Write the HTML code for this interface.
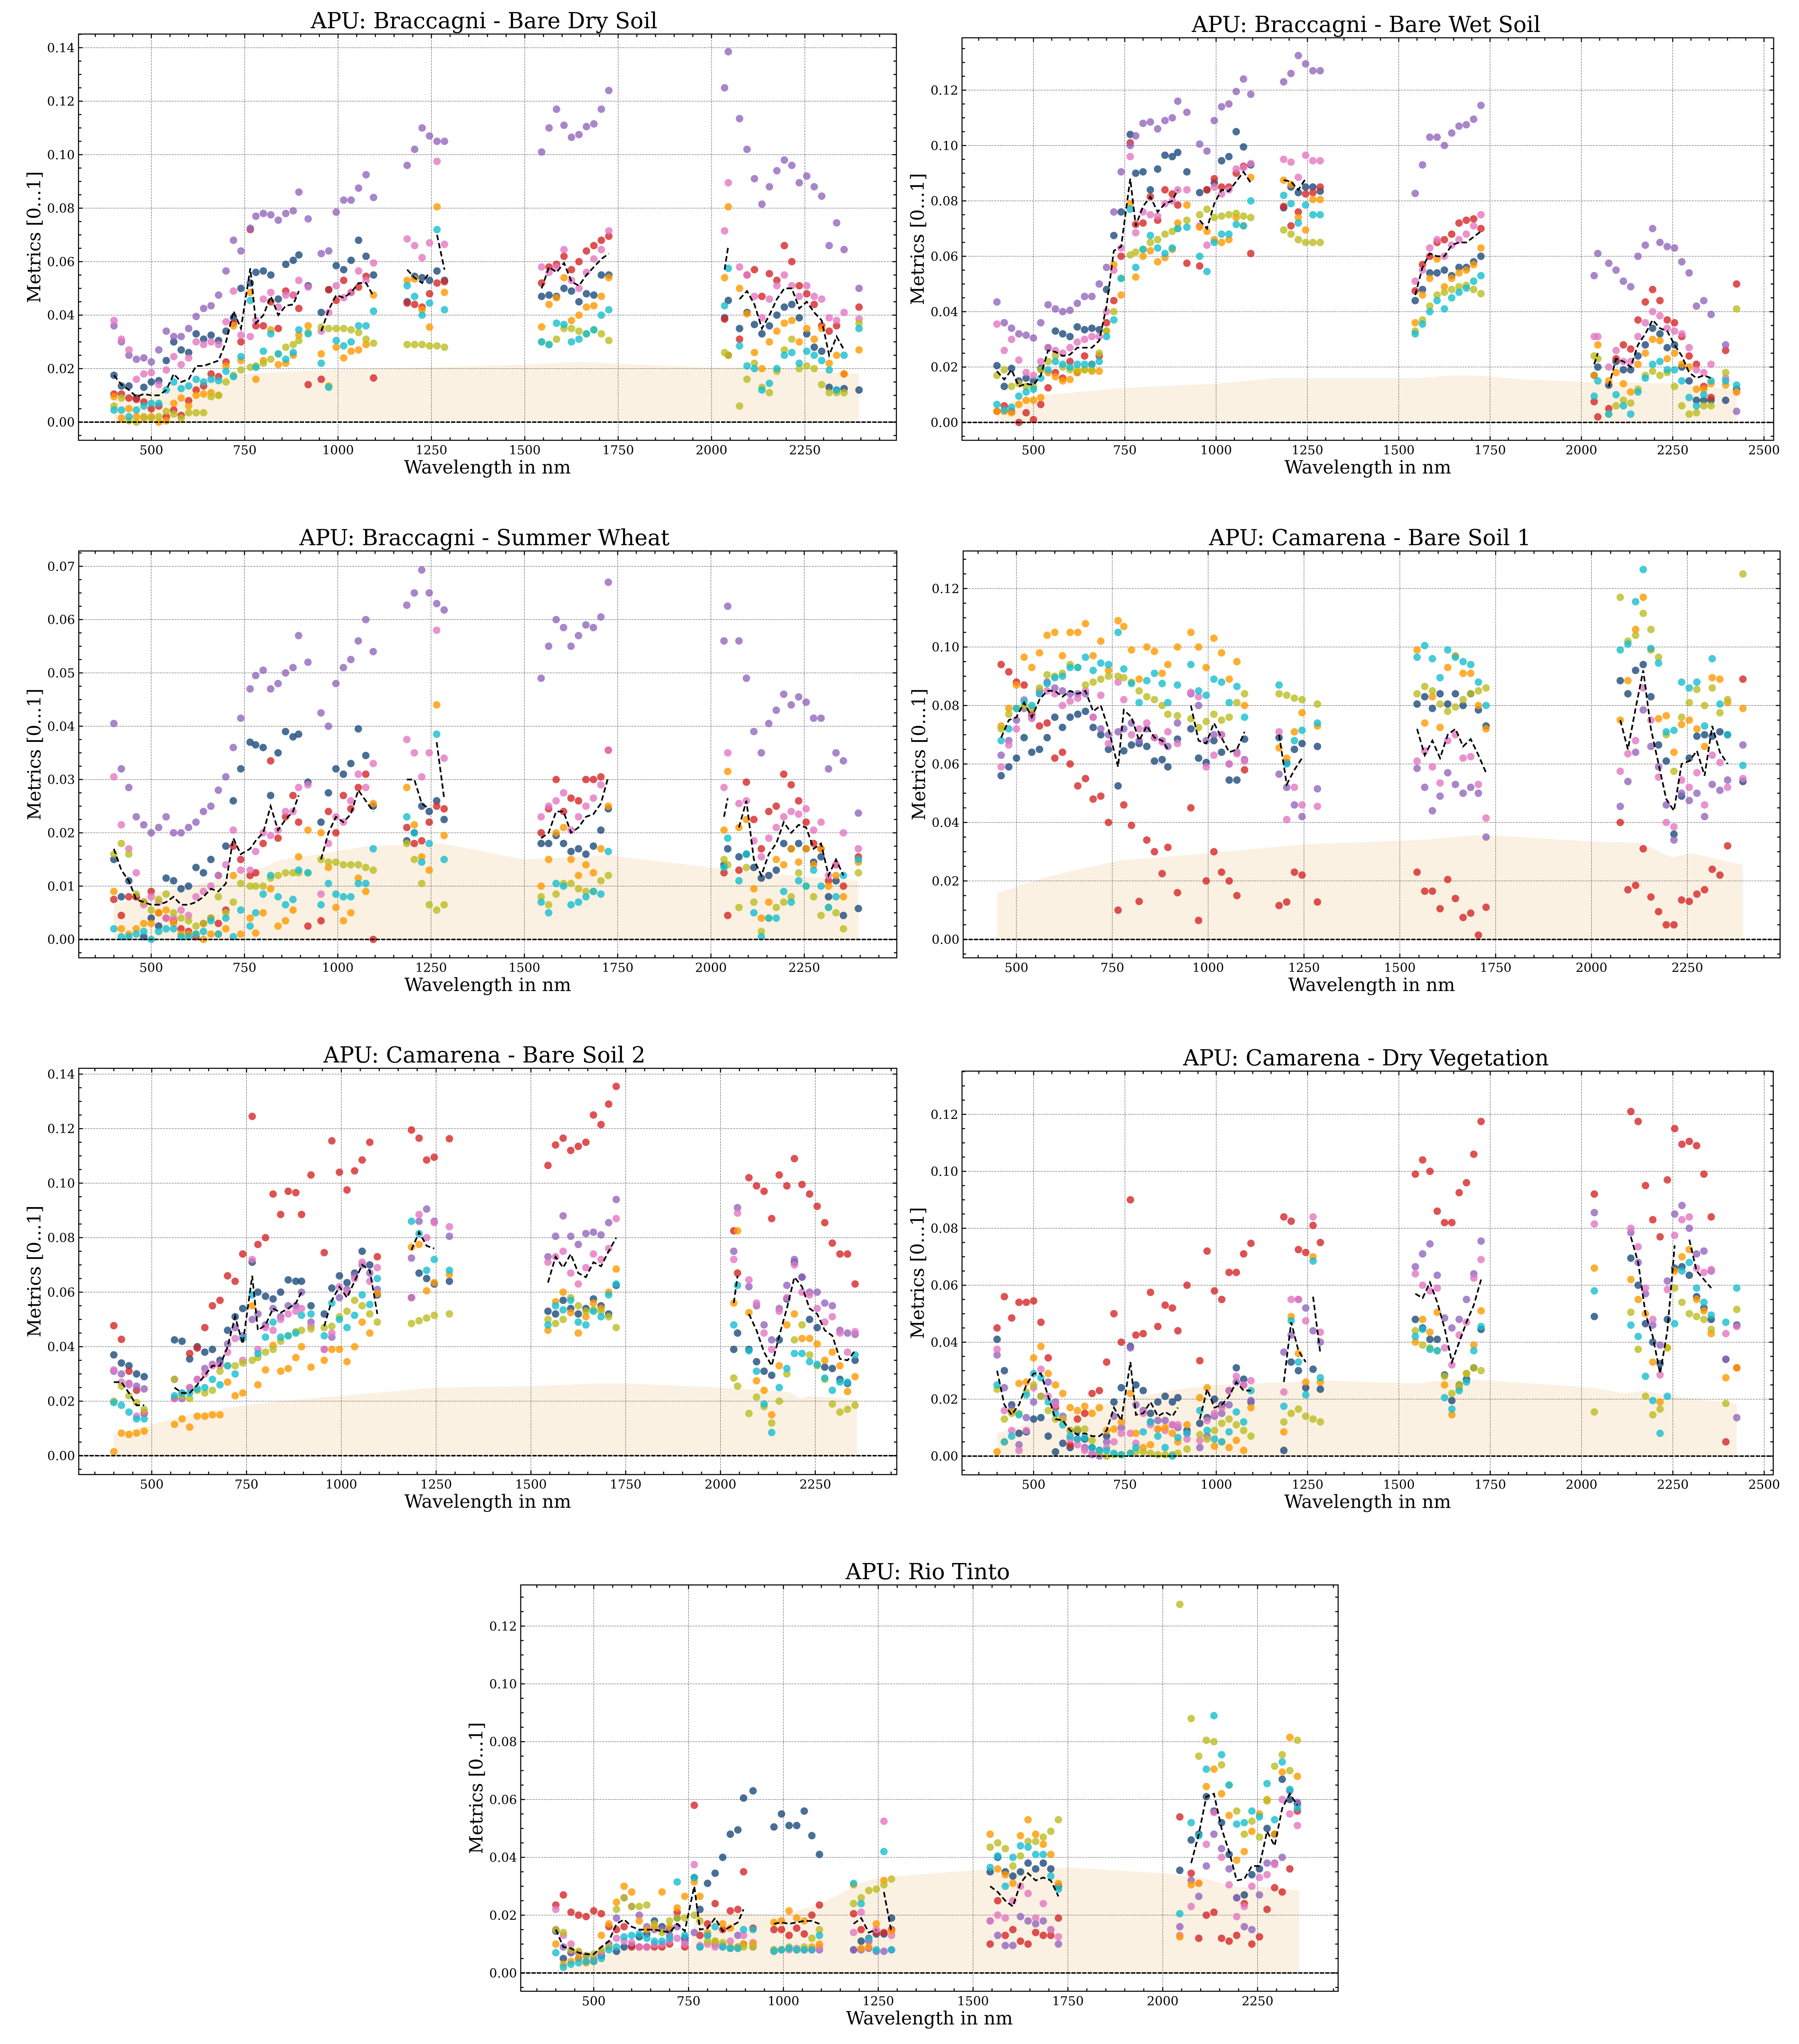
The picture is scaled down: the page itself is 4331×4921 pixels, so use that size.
<!DOCTYPE html>
<html lang="en">
<head>
<meta charset="utf-8">
<title>APU metrics by wavelength</title>
<style>
html,body{margin:0;padding:0;background:#fff}
svg{display:block}
text{font-family:"DejaVu Serif","Liberation Serif",serif;fill:#000}
</style>
</head>
<body>
<svg id="figure" xmlns="http://www.w3.org/2000/svg" width="4331" height="4921" viewBox="0 0 4331 4921"></svg>
<script>
const _=null;
const bands=[400,420,440,460,480,500,520,540,560,580,600,620,640,660,680,700,720,740,765,780,800,820,840,860,880,895,
920,
955,975,995,1015,1035,1055,1075,1095,
1185,1205,1225,1245,1265,1285,
1545,1565,1585,1605,1625,1645,1665,1685,1705,1725,
2035,2045,2075,2095,2115,2135,2155,2175,2195,2215,2235,2255,2275,2295,2315,2335,2355,2395,2425];
const lineBreaksAfter=[895,920,1095,1245,1285,1725,2045,2355];
const seriesKeys=["navy","red","purple","pink","orange","olive","cyan"];
const xTickLabels=["500","750","1000","1250","1500","1750","2000","2250","2500"];
const yTickLabelsWide=["0.00","0.02","0.04","0.06","0.08","0.10","0.12","0.14"];
const yTickLabelsWheat=["0.00","0.01","0.02","0.03","0.04","0.05","0.06","0.07"];

/* Braccagni - Bare Dry Soil (metric x 1000) */
const dryNavy=[17.5,13.5,13.5,9,13,15,15.5,23,30,27,26,33,31,32.5,30.5,34,39,50,52,56,56.5,55,46,59,60.5,62.5,
51,
41,49.5,58.5,57,60.5,68,62,55,
45,54.5,54,53,56.5,53,
47,47.5,47,50,49,45,48,47.5,55,55,
39,45.5,35,41,36.5,33,36,40,43,44,39,33,28,26.5,13,12,12.5,12];
const dryRed=[10.5,10.5,9,8.5,7.5,5,6,2,4.5,2.5,8,12,13.5,18,17,22.5,37,30,72,36,36,45,35,49,47.5,42.5,
14,
16,49.5,45.5,53,48.5,50.5,54.5,16.5,
44.5,44,43,48,52,52.5,
52,58,59,62,57,60,64,66,68,69.5,
38.5,25,31,55,57,47,55.5,53,66,60,51,48,44,36,34,36,18,43];
const dryPurple=[36,30,25,23.5,24,22.5,27,34,32,32,35,39.5,42.5,43.5,47.5,56.5,68,64,72.5,77,78,77.5,75.5,78,79,86,
76,
63,64,78.5,83,83,87.5,92.5,84,
96,102,110,107,105,105,
101,110,117,111,106.5,107.5,110.5,111.5,117,124,
125,138.5,113.5,102,91,81.5,88,94,98,96,89.5,92,88,84.5,66,74.5,64.5,50];
const dryPink=[38,31,27,16,18,18.5,14,19.5,24.5,21.5,24,30,29,30,29,37.5,49,32.5,32,38,46,48.5,43,47.5,47.5,53,
50.5,
34,41,51,46.5,48.5,56.5,53,59.5,
68.5,66,61.5,67,97.5,66.5,
58,56,58,64.5,53,50,56,61,64.5,71.5,
71.5,89.5,58,55,47,39,46,51,55,51,47,51,47,46,39,38,41,38.5];
const dryOrange=[9.5,1.5,5,2,1.5,2,0,0.5,7,9,6,10,10.5,11,10,21,36,23,48.5,16,23,34.5,21.5,22,25,32.5,
36,
25.5,13.5,28,24,26.5,27,29,47.5,
53,53.5,42,35.5,80.5,48.5,
35.6,44,46.5,54,38,40,43,43.5,47,54,
54,80.5,50,40.5,26,20,30,34,37,38,30,35,31,35,22,25,18,27];
const dryOlive=[6,9,0.5,0,2,1.5,2,4,3,1.5,3.5,3.5,3.5,9.5,10,15,17.5,19.5,20.5,21,22,23.5,25.5,28,29,30.5,
33.5,
35.5,35,35,35,34.5,33.5,31,29.5,
29,29,29,28.5,28.5,28,
30,29,31,35,35,34,33,34.5,33,30.5,
26,25,6,16,22,13,11,19,27,31,20,21,20,14,11,11,11,37];
const dryCyan=[4.5,4.5,2,4.5,6,7,7,12,15,12.5,13.5,16,15,16,15.5,19,17,24.5,45.5,20.5,26.5,33,25.5,23.5,26,34.5,
33,
22,13,30.5,28.5,30,36,36,41.5,
51,47,40,44.5,72,42,
30,29,37,36.5,30,31,33,34.5,40,42,
43.5,57.5,28.5,21,20,12,14.5,20,25,26,22,26.5,25,23,19.5,12,25,35];
const dryMean=[17.5,14,12,9.5,10.5,10,10,12,18,15,16,21,21,22,23,30,41.5,35,57.5,37,40,47,40,43.5,44,49,
_,
34,42,47.5,46.5,48.5,52,52,47,
57,54,52,56,70,57,
50,58,56,59.5,52.5,51,55,58,61,63,
57,66,46,49,44,35,40,46,50,50,42.5,45,41,38,25,32,27,_];
const dryFillX=[400,450,500,550,600,700,800,1000,1250,1500,1650,1800,2000,2150,2250,2395];
const dryFillY=[8,10.5,11.5,14,15.5,17.5,18.5,19.7,20.5,21.5,22.5,21.5,20.5,20.5,19.5,18];

/* Braccagni - Bare Wet Soil */
const wetNavy=[20.5,13,19.5,15,16,15,19.5,27,33,32,31,34.5,33.5,34,33.5,48,67.5,76,104,90,90.5,84,91.5,96.5,96,97.5,
90.5,
83,84,86.5,94.5,96,105,99.5,93,
77.5,85,83,85,85,83.5,
44,48,54,54,55,53,56,56,58,60,
17,20,13.5,22,19,19,24,28,34,32,27,28,20,15,8,8,8,8,12];
const wetRed=[4,6,4,0,3.5,1,6.5,12.5,18,16,22,18,24,21,24,36,44,60,101,71.5,72,81.5,73,84,82.5,78.5,
57.5,
56.5,84,88,85,85,90,92.5,61,
78,71,76,82.5,83,85,
47.5,57,60,65,66,68,72,73,73.5,70,
7.5,2,5,23,28,26.5,37,43.5,48,44,37,36,31,24,21,13,9,26,50];
const wetPurple=[43.5,36,34,32,31.5,30.5,36,42.5,41,40,40.5,43,45.5,45.5,50,56,76,90.5,100,103.5,108,108.5,106,109,110,116,
112,
100.5,98,109,114,115,119.5,124,118.5,
123,126,132.5,129.5,127,127,
82.7,93,103,103,100,104.5,107,107.5,109.5,114.5,
53,61,57.5,55,51,49,60,64,70,65,63.5,63,58,54,42,44,39,28,4];
const wetPink=[35.5,26,30,22.5,18,17,22,27,26,25,27,29,30,31,31,40,55,63,96,68.5,76,75,74.5,79,80,84,
84,
71,64,85,82.5,84,91.5,92,93.5,
95,94,88.5,96.5,94.5,94.5,
51,55,63,66,60,64,66,68,71,75,
31,31,20,26,22,22,31,36,40,38.5,34,33,32,27,19,18,21,16,11];
const wetOrange=[4,4,3.5,6.5,8,8,9,18,16.5,15,15.5,18,19,18.5,18.5,33,57,46,79,52.5,60,62,58,59.5,62.5,72,
78.5,
70.5,69,66,65,66,74,71,88.5,
87.5,86,74,69.5,80.5,80.5,
36,46,52,59,49,52,54,55,57,63,
17,28,15,18,14,11,21,25,30,29.5,23,25,21,20,12,12,14,13.5,11];
const wetOlive=[17,19,13,14,13,13,19,22,24,20,19,19,19,19,25,33,40,52,60.5,61.5,62.5,65,66,68,69,70,
73,
75,77,74,74.5,75,75.5,74.5,74,
69.5,68,66,65,65,65,
33,37,42,46,47,48,49,49.5,48,46.5,
24,23,3,6,8,7,12,17,18.5,17,18,13,6,3,3.5,6,6,18,41];
const wetCyan=[6.5,4.5,5.5,9.5,11,12,16,19,22,21,20,21,21,21,22,31,37,52,77,56,62.5,67.5,63,61,63,70,
70.5,
60,54.5,65,68,68,71.5,71,80,
82,79,72,78.5,75,75,
32,35.5,40,44,41,45,47,48.5,51,53,
9.5,15,3,10,6,3,11,16,21,22,19,19,15,9,6,10,15,15,13.5];
const wetMean=[18.5,15.5,19,13,14,13.5,17,26,25.5,24,24.5,27,27,27,29.5,42,62,63.5,88,71,78,81.5,76,79,80,84,
_,
73,70,79,84,83.5,87,90.5,86.5,
87.5,87,84,88,_,_,
46,56,61,60,60,64,65,65,67,69,
21,25,13,23,22,20,28,32,37,34,33,28,24,18,16,17,16,_,_];
const wetFillX=[400,450,500,750,1000,1160,1400,1550,1650,1700,1850,2030,2100,2250,2425];
const wetFillY=[4.5,8,9.5,12.5,14,16,16,16,17,17,15.5,14.5,14.5,14,12];

/* Braccagni - Summer Wheat */
const wheatNavy=[15,8,11,8,0.5,4,2.5,11.5,11,9.5,10,13.5,12.5,15,12,17.5,26,32,37,36.5,36,27,35,39,38,38.5,
29.5,
22,27.5,32,31,33,39.5,34.5,25,
18.5,20,25,24,26,22.5,
18,18,19.5,18,16.5,17,16,17.5,20.5,24.5,
14,17,15.5,16,13.5,11.5,12,13,18,17,18,17,14.5,15.5,8,11,4.5,5.8];
const wheatRed=[7.5,4.5,8,8,7,9,5,4,3.5,2,1.5,0.5,3,4,3,5.5,17.5,15,12,12.5,18,33.5,19,23,27,22,
2.5,
3.5,24,20,27,24.5,28.5,31,0,
21,18,18.5,22,25,24.5,
20,24.5,30,24,26.5,26,30,30,30.5,35.5,
12.5,4.5,13,29.5,22.5,17,24,25,31,29,26,22,18,17,11,14,10,15.5];
const wheatPurple=[40.5,32,28.5,23,21.5,20,21,23,20,20,21,22,24,25,28,30.5,36,41.5,47,49.5,50.5,47,48,50,51,57,
52,
42.5,40,48,51,52.5,56,60,54,
62.7,65,69.3,65,63,61.8,
49,55,60,58.5,55,57,59,58.5,60.5,67,
56,62.5,56,49,39,35,40.5,43,46,44,45.5,44.5,41.5,41.5,32,35,33.5,23.7];
const wheatPink=[30.5,21.5,17,12.5,6.5,8,7,4,4,5.5,4.5,8,9,10,12,14,20.5,13,13,16.5,20,19.5,20.5,24,24,28.5,
29,
8.5,18,23,22,26,31,28.5,33,
37.5,35,30.5,35,58,34,
23,25,26,27.5,20.5,23,25,26.5,29,35.5,
28.5,35,25.5,26,18.5,15.5,19,21,23,24,23.5,24.5,20.5,22,12,14,20,17];
const wheatOrange=[9,2,1,2,3,3,5,5.5,3,1,1,1,0,1,1,2,12,1,4,1.2,5,9.5,2.5,3.5,5.5,15.5,
20.5,
20,13.5,6,3.5,5,11.5,9,25.5,
28.5,21.5,15.5,13,44,19.5,
10,15,20,21,15,12,14,12.5,17,25,
20.5,31.5,21,22.5,9.5,4,7,15,14,17,14.5,17,14,17,10,12,8,14.5];
const wheatOlive=[16,18,16,8.5,7,5.5,7.5,8.5,5,4,3.5,2.5,3,4,8,5,7,10.5,10,10,10,11.5,12,12.5,12.5,12.5,
12.5,
15,14.5,14.5,14,14,14,13.5,13,
18,15,10.5,6.5,5.5,6.5,
8,6.5,8.5,10.5,10.5,9.5,9,9,11,12,
15,14,6,13.5,7,1.5,4,6,7,8,12.5,10,8,4.5,6,5,2,12.5];
const wheatCyan=[2,0.5,0.5,1,1.5,0,1.5,2,2,0.5,0.5,1,1.5,3.5,1,4,0.5,5.5,2.5,5,8.5,12,8,6.5,7.5,13,
12.5,
6.5,10.5,8.5,8,8,10.5,10.5,17,
23,20,14.5,18,38.5,15,
7,5,10.5,10,6.5,7,8,9,8.5,16.5,
13.5,19,11,16,5,0.5,4,4,9,7,11,10,13,10,6,8,12,15];
const wheatMean=[17,13,11,7.5,7,6.5,6.5,7,8,6.5,6.5,7,8,9.5,9,10.5,19,16,17,18.5,20,25,20.5,22.5,24,27,
_,
15,20,23,22,23.5,28,26,24,
30,30,25.5,24.5,37,26.5,
19,20,24,24,20,21,23,23.5,25.5,30.5,
23,26.5,21,26,15,12,16,18,22,20,21.5,21,17,18,12,15,12,_];
const wheatFillX=[400,500,600,700,800,850,950,1080,1280,1500,1725,2000,2250,2395];
const wheatFillY=[6.5,8.5,10,11.5,13.5,15,16,17.5,18,15,15.8,13.5,11.8,11];

/* Camarena - Bare Soil 1 */
const soil1Navy=[_,_,_,56,59,62,69,64,65,69,76,72.5,76,77,78,72.5,70,65,52.5,64.5,66.5,67,66,61,61.5,59,
68.5,
72,62,60.5,68,64,54.5,54.5,68.5,
69,60.5,65,67,_,66,
80.5,83,79,84,80.5,84,80,84,78.5,73,
_,_,88.5,84,92,94,83,66.5,61,36,49,62,69.5,70,69.5,71,70,54];
const soil1Red=[_,_,_,94,91.5,88,87,77,73,74,62,64,60,52.5,55,48,49,40,10,46,39,13,34,30,22.5,31.5,
16,
45,6.5,20,30,23,20,15,58,
11.6,12.8,23,22,_,12.8,
23,16.5,16.5,10.5,20.5,14,7.5,9,1.5,11,
_,_,40,17,18.5,31,14.5,9.5,5,5,13.5,13,15.5,17,24,22,32,89];
const soil1Purple=[_,_,_,63,68,75,79,76,85,88,86,85,84,84,84,76,72,70,71,72,74,68,72,69,68,66,
74,
84,80,68,70,70,60,64,61.5,
56.5,52,46,42,_,51.5,
58.5,52,44,49,57,53,50,52,50,35,
_,_,45.5,54,64,78.5,66,59,46,34,50,47.5,50,42,53,51,54.5,66.5];
const soil1Pink=[_,_,_,59,66.5,72,82,75.5,84,85,84,80,81.5,82.5,85,76,83.5,67,88,82,70,72,74,69,67.5,71,
67,
84.5,83,59,63,70,60,63.5,61,
71,41,52,46,_,45.5,
61,64.5,59,53.5,68,70,62,62.5,53,41.5,
_,_,57.5,63.5,68,86,75,55.5,40,38.5,54.5,52,57,46,63,60.5,52,55];
const soil1Orange=[_,_,_,73,79,87,96.5,93,98,104,105,97,105,105,108,97,102,92,109,107,99,89,100,98.5,91,94,
100,
105,100,93,103,98,89,95,80,
65.5,62,71,77.5,_,73,
99,74,83,72.5,93,97,91,91,80,72,
_,_,75,88.5,106,117,99,75.5,76.5,64,73.5,75,72,66,89.5,89,81,79];
const soil1Olive=[_,_,_,72,77,79,80,79,86,90.5,90,91,94,93,87,88,89,90,90,89.5,88,85,83,82,80,77,
76.5,
75.5,72.5,74.5,77,75,76,81,84,
84,83.5,82.5,82,_,80.5,
84,86.5,85,80.5,78,79.5,82,84,85,86,
_,_,117,102,104,111.5,106,96.5,70,57.5,76,81,85.5,80,86,77.5,82,125];
const soil1Cyan=[_,_,_,68,72,79,81.5,80,84,87.5,89.5,90,93,93,96.5,92,94.5,94,105,92.5,87.5,81,88.5,91,87.5,81,
87,
94,85,83.5,89,88,81,86.5,76,
87,60,68,71.5,_,74,
96.5,100.5,96,89.5,99,96.5,95,94,88,80,
_,_,99,101,115.5,126.5,99.5,94.5,71,71.5,88,86,88,73,96,80.5,70,59.5];
const soil1Mean=[_,_,_,69,75,76,81,76,82,85,85,83,85,84,85,78,80,72,59,78.5,76,68,73,69,68,65,
_,
80,68,67,74,69,64,65,71,
70,53,58,62,_,_,
72,63,68,62,70,72,66,68.5,63,57,
_,_,75,65,79,92,72,60,48,44,60,61,64.5,56,73,64,60,_];
const soil1FillX=[450,480,520,570,630,700,770,870,1000,1250,1550,1680,1750,2000,2130,2210,2260,2395];
const soil1FillY=[16,17,19,21,23,25,27,28,29.5,32.5,34,35.5,35.5,33.5,33,28,29.5,25.5];

/* Camarena - Bare Soil 2 */
const soil2Navy=[37,34,33,30,29,_,_,_,42.5,42,35.5,40,38,39,35,46,51,54,71,60,58.5,57.5,60,64.5,64,64,
55,
52,61.5,66,63.5,67,75,70,59,
58,67,65,63,_,64,
53,52,57,54,52,54,57.5,55,52,62.5,
39,45,39,34.5,31,29.5,42.5,57.5,71,65.5,50,47,32.5,32,28,26.5,35,_];
const soil2Red=[47.7,42.7,31,24,15.5,_,_,_,21,23,37.5,39.5,47,55,57,66,64,74,124.5,77.5,80,96,88.5,97,96.5,88.5,
103,
74.5,115.5,104,97.5,104.5,108.5,115,73,
119.5,116.5,108.5,109.5,_,116.3,
106.5,114,116.5,112,113.5,115,125,121.5,129,135.5,
82.5,67,102,99,97,87,103,99,109,99.5,96,91.5,85.5,78,74,74,63,_];
const soil2Purple=[31,30,26.5,25.5,24.5,_,_,_,28,21,25,28,32,33.5,34,41,47,44,50,52,48,54,51,55,55,60,
49,
39,43.5,58,61,66,70,67,61,
72.5,86,90.5,86,_,80.5,
73,80.5,88,80.5,77.5,81.5,82,81,85.5,94,
75,91,62,55,48,42.5,54,62.5,72,65.5,60,60,56,55,46,45,44.5,_];
const soil2Pink=[31.5,27,26,14.5,16,_,_,_,21,23,25,28,30,33,33,38,43,35,72,39,47,46,50,52,53,54,
47.5,
39,45,62,60,65,71,64,69,
58,88.5,80,85.5,_,84,
71,73,75,67,63,69,74,72,76,87,
72,89,64.5,56,45,39,53,58,70,60,59,54,49,51,45,38,45.5,_];
const soil2Orange=[1.5,8.3,7.8,8.3,9,_,_,_,11.5,13.5,10.5,14.5,14.5,15,15,27,22,23,55,26,31.5,40.5,31,32,36,40,
32.5,
35,39,39,34.5,40,49,45,59.5,
76.5,77.5,60.5,63.5,_,66.5,
46,56.5,60,52.5,45,51,56,54,60,68.5,
56,82.5,52.5,27.5,24,15,33,48,52,43,43,41,35,38,33,23.5,29,_];
const soil2Olive=[20,25.5,22,19.5,17,_,_,_,28,22,21,24,23,24,31,33,33,34,35,36,38,39,42,44,45.5,46,
46.5,
47,47.5,51,53,57,55,52,49,
48.5,49.5,50.5,51.5,_,52,
50,48.5,50,58,55,53,53.5,53,51,47,
28.5,25.5,15.5,21.5,18,12,20,30,42.5,48,37,33,28,19,16,17,18.5,_];
const soil2Cyan=[19.5,18.5,16,13.5,13.5,_,_,_,22,23,23,24.5,25,28,26,33,30,43,59,37.5,43.5,49,43.5,44,45,51.5,
52,
44,56,50,47,51.5,59,55.5,65,
86,81.5,68,72,_,68,
48,55,53.5,57,49,48,53,51,59,63,
48,62.5,38.5,31,19,8.5,25,32,37.5,37.5,34.5,33.5,28.5,24,27,27,37,_];
const soil2Mean=[27,27,23,18.5,18.5,_,_,_,25,23,23,26,29.5,33,33,40,51,41,66,46,48,54,52.5,54,56,60,
_,
47.5,57,62,58,64,70,68,52,
75.5,82,77,76,_,_,
63.5,73,69,74,67,65.5,71,69.5,75,80,
56,66,52,46,38,33,44,54,65.5,62,54,52,46,44,35.5,35,38.5,_];
const soil2FillX=[400,500,600,700,800,1000,1250,1500,1680,1750,2000,2180,2210,2240,2360];
const soil2FillY=[8,11.5,15,17.5,19.5,22,25,25.5,26.5,26.5,25,23.5,21,22,20.5];

/* Camarena - Dry Vegetation */
const vegNavy=[41,30,18,8,8.5,13,13.5,7,1.5,4.5,3,9,6,3,2,7,19,24,38.5,25,23,15,19,21,19,20.5,
9,
11.5,13.5,20,18,23,31,27,19,
2,33,30,24,30.5,23.5,
48,45,41,41,28.5,19.5,25,27,31,44.5,
49,_,_,_,_,69.5,60,46.5,40,32.5,48,66,66.5,63.5,56,52,48,34,46];
const vegRed=[45,56,48.5,54,54,54.5,47,34.5,17,13,4,13,15,22,23,33,50,40,90,42.5,43,57.5,45.5,53,52,44,
60,
33.5,72,58,55,64.5,64.5,71,74.7,
84,82.5,72.5,71.5,81,75,
99,104,100,86,82,82,92.5,96,106,117.5,
92,_,_,_,_,121,117.5,95,83,77,97,115,109.5,110.5,109,99,84,5,31];
const vegPurple=[35.5,24,16.5,4,13.5,19,21,26,19,14,9,6,3,0.5,0,5,14,10,38,18,16,12,12.5,12.5,11,10,
8,
3,7,14,15,18,26,25,19.5,
36.5,42.5,55,52,44,40,
66.5,71,74.5,63.5,48.5,45,48,55,64,75.5,
85.5,_,_,_,_,78.5,68,57,46,39,61.5,85,88,80,71,72,65,34,13.5];
const vegPink=[37.5,16,9,2,9,24,30.5,21,18,13,6,4,2,1,1,3,5,8,8,4.5,15,11,9.5,9,11,11,
6,
5.5,12.5,15,17,23,28,25,26.5,
22.5,55,55,47.5,84,43.5,
64,60,58,59,38,32,42.5,47,62.5,69,
81.5,_,_,_,_,80,73.5,59,48,28.5,58.5,77.5,83,84,66,64.5,65.5,43,45.5];
const vegOrange=[1.5,5,15.5,25.5,26,34.5,38.5,29,25,22,17,16,17.5,15,17,9,9.5,12,22,8,3,4,9.5,10,8,5,
11,
20.5,24,3.5,5,3,5.5,2,17,
8.5,49,36,26,70,26,
40,48,43.5,50.5,25,14.5,24,29,39,51,
66,_,_,_,_,62,55,50,33,19,38,65,70,72.5,55,51,43,27.5,31];
const vegOlive=[23.5,13,15,15,22.5,25,21,16,13,13,9,9.5,9.5,5.5,1.5,0,0.5,0.5,1,1.5,1.5,1,0.5,0.5,0.5,1,
2.5,
7.5,6,9,11.5,13,11,9,7,
12,15,16.5,14,13,12,
44,39,38,37,28,22,25,29,31,30,
15.5,_,_,_,_,50.5,37.5,21,14.5,16.5,38,59,54,50,49,48,44.5,18.5,51.5];
const vegCyan=[25,5,7,14.5,21.5,29,27.5,19,15,11,7,6,6.5,3,2,2,1,0.5,1,3,8.5,12,7,3,0,6.5,
8,
16,9,6,5,8.5,15.5,12,23,
17.5,47.5,33,21.5,68.5,27.5,
42,44.5,37.5,37,20.5,16.5,23,26,37,45.5,
58,_,_,_,_,46,42,28,19.5,8,21,46.5,65,68,59,54,49.5,47,59];
const vegMean=[30,18,14.5,18,25,29,29,21,13,12.5,9,7.5,8,7,7,9,17,12.5,33,14.5,15,19,14,15.5,14,17,
_,
13,23.5,17,18,21,26,23,23,
26,47,37,33,56,36,
57,55.5,61,54,45,33,40,47,53,62,
_,_,_,_,_,77,68,50,42,29,44,74,_,76,65,62,59,_,_];
const vegFillX=[400,500,600,750,900,1000,1300,1550,1640,1750,2030,2120,2170,2250,2425];
const vegFillY=[8,12,15,20,23.5,25,26.5,25.5,27,26.5,24,22,23,21,18.5];

/* Rio Tinto */
const rioNavy=[14.5,5,7,5,6,4,6,9,7.5,9,9.5,12.5,13.5,18,16,15,19,12,33,22,31,34.5,40,48,49.5,60.5,
63,
_,50.5,55,51,51,56,47.5,41,
8,11,11,13.5,13.5,19,
35,40,35,33.5,35,38,36,38,36,30,
_,35.5,46,48,61,56,52,41,26,27,34,36,50,48,67,60,58.5];
const rioRed=[23.5,27,21,20,19.5,21.5,20.5,16,15,16,9,9,9,9,9,10,21,9,58,13,17,24,15,21.5,22,35,
15.5,
_,15,15,13,15.5,13.5,20,23.5,
20.5,15,12,14,14,15,
10,25,13,15,11,10,14,13,13,19,
_,54,34.5,12,20,21,12,11,13,24,10,12.5,22,29.5,28,36,56];
const rioPurple=[15,9,7,7,6,5,7,10,19,26,23,20,16,15,15,13,16,11,14,9,13,10,9.5,8.5,13,10,
9,
_,8,8,8.5,8,8,8,8,
8,8,8.5,7.5,7.5,8,
18,13,9.5,9.5,19.5,18,17,18,15,10,
_,16,32,26.5,37,48,43,36,26,16,15,27,38,38,40,63,59];
const rioPink=[22,13,10,7,4,5,7,9,12,11,10.5,9,9,10,10,11,12,10,37.5,9.5,10,9,9,11,9,13,
10.5,
_,7.5,8,8,8.5,8,8,9,
14,21,11,15,52.5,13,
18,20,19,25,30,27.5,19,24,15,12.5,
_,13,23,31,44.5,55.5,40,30.5,19.5,23,30,33,34,37.5,60,55,51];
const rioOrange=[10,3,4,5,3.5,4,13,17,24.5,30,28,18,15,16,28,16,22.5,26.5,31.5,26.5,14,11,17,15.5,9,10,
10,
_,17.5,18,21.5,19,18,9,10,
30.5,8.5,9,17,32,14.5,
48,36,34,31,47.5,53,48,44.5,41,31,
_,12.5,30.5,31,64.5,70.5,62,54.5,39,42,49,55,60,48,69.5,81.5,68];
const rioOlive=[15,14,8,7.5,6,6.5,8,9,22,26,23,23,23.5,17,14,18,19,19,20,18,11,11,10.5,9,8.5,9,
9,
_,8,8,9,8,9,12,15,
24,26,28.5,29,30.5,32.5,
43.5,45,43,37,40.5,45.5,45.5,47,49,53,
_,127.5,88,75,80.5,80,72,65,56,48,52.5,47,59.5,71.5,75.5,70,80.5];
const rioCyan=[7,2,3,3.5,4,4,5,8,9,12.5,13,13.5,12,11,11,12,31.5,13,33,9,13,16,9,8.5,8.5,15,
15,
_,7.5,8,8.5,8,8,8,13,
31,24,12,8,42,8,
36.5,40.5,30,40,44,43.5,41,41,33.5,29,
_,20.5,52,47.5,70.5,89,75.5,65,51.5,52,56,54,65.5,53,73,63.5,57];
const rioMean=[15,9,8.5,7,6.5,6.5,9,11,17,18.5,16,15,15,15,14.5,14,17,14.5,30,15,15.5,19,14.5,16,17.5,22,
_,
_,17,17.5,17,17.5,18,18,17,
17,19,14,15,28,14,
30,28,25,23,31,34.5,32,33,32,26.5,
_,45,38,48,61,62,50,42,32,32.5,37,37,49,44,57,62,58];
const rioFillX=[400,450,500,550,600,700,755,770,850,1000,1100,1200,1250,1500,1750,2000,2100,2200,2250,2360];
const rioFillY=[1,2,4,7.5,8.5,8.5,9,22,21,20,24,31,33,35.5,36.5,34.5,33,29.5,30,28.5];

const colors={navy:"#1d4b7c",red:"#d62728",purple:"#9467bd",pink:"#e377c2",orange:"#ff9a00",olive:"#bcbd22",cyan:"#17becf"};

const panels=[
{key:"bare-dry-soil",title:"APU: Braccagni - Bare Dry Soil",titleShift:-8,L:189,R:2158,T:82,B:1060,xd:[305,2495],yd:[-0.0068,0.1451],major:0.02,minor:0.005,yLabels:yTickLabelsWide,
 values:{navy:dryNavy,red:dryRed,purple:dryPurple,pink:dryPink,orange:dryOrange,olive:dryOlive,cyan:dryCyan},mean:dryMean,fillX:dryFillX,fillY:dryFillY},
{key:"bare-wet-soil",title:"APU: Braccagni - Bare Wet Soil",titleShift:-4,L:2316,R:4270,T:91,B:1060,xd:[304.4,2526.4],yd:[-0.00645,0.1389],major:0.02,minor:0.005,yLabels:yTickLabelsWide,
 values:{navy:wetNavy,red:wetRed,purple:wetPurple,pink:wetPink,orange:wetOrange,olive:wetOlive,cyan:wetCyan},mean:wetMean,fillX:wetFillX,fillY:wetFillY},
{key:"summer-wheat",title:"APU: Braccagni - Summer Wheat",titleShift:-8,L:189.6,R:2159,T:1326.5,B:2306,xd:[305.9,2498],yd:[-0.00345,0.07287],major:0.01,minor:0.0025,yLabels:yTickLabelsWheat,
 values:{navy:wheatNavy,red:wheatRed,purple:wheatPurple,pink:wheatPink,orange:wheatOrange,olive:wheatOlive,cyan:wheatCyan},mean:wheatMean,fillX:wheatFillX,fillY:wheatFillY},
{key:"bare-soil-1",title:"APU: Camarena - Bare Soil 1",titleShift:-4,L:2318.8,R:4285.5,T:1326.5,B:2306,xd:[361,2492],yd:[-0.00629,0.13284],major:0.02,minor:0.005,yLabels:yTickLabelsWide,
 values:{navy:soil1Navy,red:soil1Red,purple:soil1Purple,pink:soil1Pink,orange:soil1Orange,olive:soil1Olive,cyan:soil1Cyan},mean:soil1Mean,fillX:soil1FillX,fillY:soil1FillY},
{key:"bare-soil-2",title:"APU: Camarena - Bare Soil 2",titleShift:-8,L:189.6,R:2159,T:2572,B:3550,xd:[307.5,2465],yd:[-0.00691,0.14213],major:0.02,minor:0.005,yLabels:yTickLabelsWide,
 values:{navy:soil2Navy,red:soil2Red,purple:soil2Purple,pink:soil2Pink,orange:soil2Orange,olive:soil2Olive,cyan:soil2Cyan},mean:soil2Mean,fillX:soil2FillX,fillY:soil2FillY},
{key:"dry-vegetation",title:"APU: Camarena - Dry Vegetation",titleShift:-4,L:2316,R:4269,T:2578.8,B:3550.7,xd:[304,2524.8],yd:[-0.00658,0.13518],major:0.02,minor:0.005,yLabels:yTickLabelsWide,
 values:{navy:vegNavy,red:vegRed,purple:vegPurple,pink:vegPink,orange:vegOrange,olive:vegOlive,cyan:vegCyan},mean:vegMean,fillX:vegFillX,fillY:vegFillY},
{key:"rio-tinto",title:"APU: Rio Tinto",titleShift:-4,L:1253.6,R:3221.5,T:3815.8,B:4794,xd:[307.5,2462.4],yd:[-0.00632,0.13422],major:0.02,minor:0.005,yLabels:yTickLabelsWide,
 values:{navy:rioNavy,red:rioRed,purple:rioPurple,pink:rioPink,orange:rioOrange,olive:rioOlive,cyan:rioCyan},mean:rioMean,fillX:rioFillX,fillY:rioFillY}
];

const NS="http://www.w3.org/2000/svg";
const figure=document.getElementById("figure");
function make(tag,parent,attrs,text){
  const el=document.createElementNS(NS,tag);
  for(const k in attrs)el.setAttribute(k,attrs[k]);
  if(text!==undefined)el.textContent=text;
  parent.appendChild(el);
  return el;
}
function drawPanel(p){
  const xAt=v=>p.L+(v-p.xd[0])/(p.xd[1]-p.xd[0])*(p.R-p.L);
  const yAt=v=>p.B-(v-p.yd[0])/(p.yd[1]-p.yd[0])*(p.B-p.T);
  const g=make("g",figure,{});
  
  

  const clipId="clip-"+p.key;
  const defs=make("defs",g,{});
  const cp=make("clipPath",defs,{id:clipId});
  make("rect",cp,{x:p.L,y:p.T,width:p.R-p.L,height:p.B-p.T});

  /* reference fill */
  let d="M"+xAt(p.fillX[0]).toFixed(1)+" "+yAt(0).toFixed(1);
  p.fillX.forEach((w,i)=>{d+="L"+xAt(w).toFixed(1)+" "+yAt(p.fillY[i]/1000).toFixed(1);});
  d+="L"+xAt(p.fillX[p.fillX.length-1]).toFixed(1)+" "+yAt(0).toFixed(1)+"Z";
  const area=make("path",g,{d:d,fill:"#faf1e2"});
  
  

  /* grid and ticks */
  const gridG=make("g",g,{stroke:"#555","stroke-width":1,"stroke-dasharray":"5 2"});
  
  
  const tickG=make("g",g,{stroke:"#000","stroke-width":2.5});
  
  
  for(let w=300;w<=p.xd[1];w+=50){
    if(w<p.xd[0])continue;
    const x=xAt(w),isMajor=w%250===0,len=isMajor?10:7;
    make("line",tickG,{x1:x,x2:x,y1:p.B,y2:p.B-len});
    make("line",tickG,{x1:x,x2:x,y1:p.T,y2:p.T+len});
    if(isMajor){
      make("line",gridG,{x1:x,x2:x,y1:p.T,y2:p.B});
      const label=xTickLabels[w/250-2];
      const t=make("text",g,{x:x,y:p.B+34,"text-anchor":"middle","font-size":30},label);
      
      
    }
  }
  const steps=Math.round(p.major/p.minor);
  for(let i=-2;;i++){
    const v=i*p.minor;
    if(v>p.yd[1])break;
    if(v<p.yd[0])continue;
    const y=yAt(v),isMajor=i%steps===0&&i>=0,len=isMajor?10:7;
    make("line",tickG,{x1:p.L,x2:p.L+len,y1:y,y2:y});
    make("line",tickG,{x1:p.R,x2:p.R-len,y1:y,y2:y});
    if(isMajor){
      make("line",gridG,{x1:p.L,x2:p.R,y1:y,y2:y});
      const label=p.yLabels[i/steps];
      const t=make("text",g,{x:p.L-9,y:y+11,"text-anchor":"end","font-size":30},label);
      
      
    }
  }

  /* scatter series */
  const plot=make("g",g,{"clip-path":"url(#"+clipId+")"});
  seriesKeys.forEach(key=>{
    const sg=make("g",plot,{fill:colors[key],"fill-opacity":0.8});
    
    
    p.values[key].forEach((v,i)=>{
      if(v===null)return;
      const c=make("circle",sg,{cx:xAt(bands[i]).toFixed(1),cy:yAt(v/1000).toFixed(1),r:9});
      
      
    });
  });

  /* mean dashed line */
  let md="",pen=false;
  p.mean.forEach((v,i)=>{
    if(v===null){pen=false;return;}
    md+=(pen?"L":"M")+xAt(bands[i]).toFixed(1)+" "+yAt(v/1000).toFixed(1);
    pen=!lineBreaksAfter.includes(bands[i]);
  });
  const meanPath=make("path",plot,{d:md,fill:"none",stroke:"#000","stroke-width":4,"stroke-dasharray":"13 7"});
  
  

  const zero=make("line",g,{x1:p.L,x2:p.R,y1:yAt(0),y2:yAt(0),stroke:"#000","stroke-width":3.5,"stroke-dasharray":"10 3"});
  
  

  const frame=make("rect",g,{x:p.L,y:p.T,width:p.R-p.L,height:p.B-p.T,fill:"none",stroke:"#000","stroke-width":2.5});
  
  

  const cx=(p.L+p.R)/2;
  const title=make("text",g,{x:cx+p.titleShift,y:p.T-14,"text-anchor":"middle","font-size":53},p.title);
  
  
  const xl=make("text",g,{x:cx,y:p.B+80,"text-anchor":"middle","font-size":44},"Wavelength in nm");
  
  
  const ylx=p.L-92,yly=(p.T+p.B)/2;
  const yl=make("text",g,{x:ylx,y:yly,"text-anchor":"middle","font-size":44,transform:"rotate(-90 "+ylx+" "+yly+")"},"Metrics [0...1]");
  
  
}
panels.forEach(drawPanel);
</script>
</body>
</html>
